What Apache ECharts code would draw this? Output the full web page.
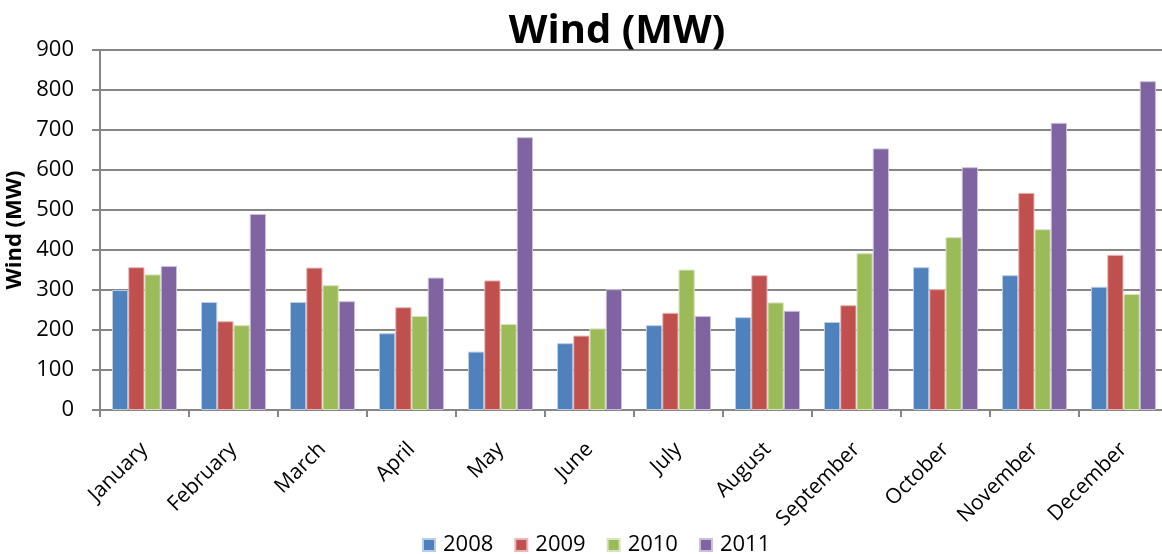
<!DOCTYPE html>
<html>
<head>
<meta charset="utf-8">
<script src="https://cdn.jsdelivr.net/npm/echarts@6/dist/echarts.min.js"></script>
<style>
  html, body { margin: 0; padding: 0; background: #fff; }
  #chart { width: 1162px; height: 554px; }
</style>
</head>
<body>
<div id="chart"></div>
<script>
// Monthly wind generation (MW), one series per year
const months = ['January', 'February', 'March', 'April', 'May', 'June',
  'July', 'August', 'September', 'October', 'November', 'December'];
const years = ['2008', '2009', '2010', '2011'];
const wind2008 = [300, 270, 270, 192, 146, 167, 212, 232, 220, 357, 337, 308];
const wind2009 = [357, 222, 356, 257, 324, 186, 243, 337, 262, 302, 543, 388];
const wind2010 = [339, 212, 312, 235, 215, 204, 351, 269, 392, 432, 452, 290];
const wind2011 = [360, 490, 272, 331, 682, 302, 235, 248, 654, 607, 718, 822];
const yTicks = { min: 0, max: 900, interval: 100 };

const colors = ['#4F81BD', '#C0504D', '#9BBB59', '#8064A2'];
const borders = ['#B9CDE5', '#E6B9B8', '#D7E4BD', '#CCC1DA'];
const seriesData = [wind2008, wind2009, wind2010, wind2011];
const font = '"Open Sans", "Noto Sans", sans-serif';

const chart = echarts.init(document.getElementById('chart'), null, { renderer: 'canvas' });
chart.setOption({
  animation: false,
  color: colors,
  title: {
    text: 'Wind (MW)',
    left: 612,
    textAlign: 'center',
    top: 7,
    textStyle: { fontFamily: font, fontWeight: 'bold', fontSize: 40, color: '#000' }
  },
  legend: {
    top: 529,
    left: 417,
    itemWidth: 12,
    itemHeight: 12,
    itemGap: 21,
    icon: 'rect',
    textStyle: { fontFamily: font, fontSize: 22, color: '#000', padding: [0, 0, 0, 3] },
    data: years
  },
  grid: { left: 100, top: 50, width: 1068, height: 360, containLabel: false, outerBoundsMode: 'none' },
  xAxis: {
    type: 'category',
    data: months,
    axisLine: { lineStyle: { color: '#868686', width: 2 } },
    axisTick: { show: true, length: 7, lineStyle: { color: '#868686', width: 2 } },
    axisLabel: {
      rotate: 45,
      fontFamily: font,
      fontSize: 21,
      color: '#000',
      margin: 36,
      interval: 0
    }
  },
  yAxis: {
    type: 'value',
    min: yTicks.min,
    max: yTicks.max,
    interval: yTicks.interval,
    name: 'Wind (MW)',
    nameLocation: 'middle',
    nameRotate: 90,
    nameGap: 68,
    nameTextStyle: { fontFamily: font, fontWeight: 'bold', fontSize: 22, color: '#000' },
    axisLine: { show: true, lineStyle: { color: '#868686', width: 2 } },
    axisTick: { show: true, length: 8, lineStyle: { color: '#868686', width: 2 } },
    axisLabel: { fontFamily: font, fontSize: 22, color: '#000', margin: 26 },
    splitLine: { show: true, lineStyle: { color: '#868686', width: 2 } }
  },
  series: seriesData.map((d, i) => ({
    name: years[i],
    type: 'bar',
    data: d,
    barGap: '0%',
    barCategoryGap: '27%',
    itemStyle: { color: colors[i], borderColor: borders[i], borderWidth: 1 }
  }))
});
</script>
</body>
</html>
